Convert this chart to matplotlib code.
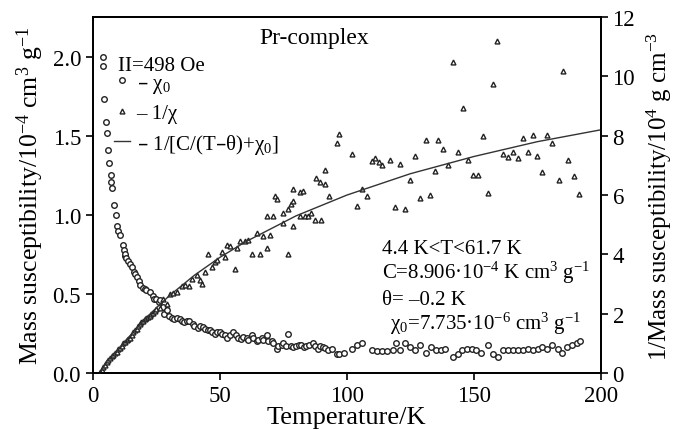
import matplotlib
matplotlib.use("Agg")
import matplotlib.pyplot as plt
from matplotlib.lines import Line2D

plt.rcParams['font.family'] = ['Liberation Serif', 'DejaVu Serif']
plt.rcParams['mathtext.default'] = 'regular'

# chi (left axis, 10^-4 cm3/g)
T_chi = [3.9, 3.9, 4.4, 5.1, 5.5, 6.0, 6.4, 7.0, 7.2, 7.5, 8.3, 9.0, 9.6, 10.0, 10.6,
         11.7, 12.2, 12.5, 12.8, 13.2, 14.0, 14.6, 15.3, 16.0, 16.5, 17.2, 18.0, 18.5,
         19.7, 20.5, 21.0, 22.4, 23.7, 24.0, 25.0, 26.0, 26.3, 27.6, 28.0, 29.0, 30.0,
         31, 32, 33, 34.3, 35, 36, 37, 38, 39.5, 40, 41.5, 42, 43.5, 44, 45.5, 46, 47,
         48, 49, 50, 51, 52, 53, 54, 55, 56.5, 57, 58.5, 59, 60.5, 61, 62.5, 63, 64.5,
         65, 66.5, 67, 68.5, 69, 70.5, 71, 72.4, 73, 74.4, 75, 76, 77, 78, 79, 80, 81,
         82, 83, 84, 85, 86.8, 87.5, 88.8, 89.5, 90.7, 91.5, 92.6, 94, 96, 97, 99, 102,
         104, 106, 110, 112, 114, 116, 118, 119.5, 121, 123, 125, 127, 129, 131, 133,
         135, 137, 138.6, 141.7, 143.7, 145.5, 147.5, 149.5, 151, 153, 155.5, 157.5,
         159.5, 161.4, 163.5, 165.5, 167.5, 169.5, 171.5, 173.5, 175.5, 177, 179, 180.7,
         183, 184.6, 186.6, 188.6, 190.6, 191.7]
chi = [2.0, 1.94, 1.73, 1.59, 1.52, 1.41, 1.33, 1.25, 1.21, 1.17, 1.06, 1.0, 0.93, 0.90, 0.875,
       0.81, 0.775, 0.74, 0.75, 0.73, 0.71, 0.69, 0.67, 0.64, 0.625, 0.61, 0.58, 0.56,
       0.54, 0.53, 0.525, 0.51, 0.49, 0.47, 0.47, 0.45, 0.46, 0.42, 0.375, 0.40, 0.36,
       0.35, 0.34, 0.35, 0.34, 0.33, 0.32, 0.33, 0.33, 0.31, 0.30, 0.285, 0.30, 0.29, 0.28, 0.27, 0.27, 0.26,
       0.25, 0.26, 0.26, 0.25, 0.24, 0.22, 0.24, 0.26, 0.24, 0.22, 0.215, 0.23, 0.22, 0.21, 0.24, 0.22, 0.20,
       0.21, 0.22, 0.21, 0.24, 0.20, 0.20, 0.19, 0.155, 0.17, 0.18, 0.19, 0.17, 0.25, 0.17, 0.165, 0.17, 0.18,
       0.18, 0.165, 0.17, 0.18, 0.19, 0.17, 0.15, 0.17, 0.165, 0.16, 0.145, 0.15, 0.12, 0.12, 0.13, 0.15,
       0.18, 0.19, 0.145, 0.14, 0.14, 0.14, 0.145, 0.19, 0.145, 0.19, 0.165, 0.145, 0.18, 0.13, 0.165,
       0.145, 0.145, 0.15, 0.10, 0.12, 0.145, 0.15, 0.15, 0.145, 0.125, 0.18, 0.12,
       0.10, 0.145, 0.145, 0.145, 0.145, 0.145, 0.15, 0.145, 0.155, 0.165, 0.15, 0.18,
       0.15, 0.13, 0.165, 0.18, 0.19, 0.20]

# 1/chi (right axis, 10^4 g/cm3)
T_inv = [2.8, 3.5, 4.0, 4.7, 5.5, 6.1, 6.7, 7.4, 8.0, 8.7, 9.4, 10, 10.6, 11.3, 12, 12.7,
         13.3, 14, 14.6, 15.3, 15.9, 16.5, 17.2, 17.8, 18.5, 19.1, 19.8, 20.4, 21, 21.7,
         22.4, 23, 23.7, 24.3, 25, 26.4, 27.6, 29, 30.3, 31.5, 33, 35, 36.2, 38, 39, 41,
         42, 43, 44, 45.5, 46.8, 48, 49, 51, 52, 53, 54, 56, 56.6, 58, 60, 61, 62.6, 64.5,
         65.7, 67, 68.5, 69.7, 68.5, 71, 71.6, 72.4, 75, 75, 77, 77, 78, 78.7, 79, 79,
         81.5, 81.5, 82.7, 83.5, 84.7, 86, 87.4, 88, 89.4, 90, 91.3, 91.3, 93, 96, 97,
         102, 104, 106, 108, 110, 111, 112.6, 114, 117, 119, 121, 123, 125, 127, 129, 131,
         132.7, 134.6, 136, 138, 140, 141.7, 143.7, 145.6, 147.6, 149.6, 151.6, 153.5,
         155.5, 157.5, 159, 161.4, 163.4, 165.4, 167.3, 169.3, 171.3, 173.2, 175, 177, 179,
         181, 183.5, 185, 187, 189.4, 191.3]
inv_chi = [0.03, 0.12, 0.2, 0.28, 0.36, 0.44, 0.52, 0.57, 0.62, 0.68, 0.72, 0.8, 0.85, 0.93, 1.0, 1.05,
           1.1, 1.15, 1.2, 1.3, 1.38, 1.45, 1.5, 1.6, 1.67, 1.72, 1.77, 1.82, 1.87, 1.9,
           1.93, 1.98, 2.03, 2.1, 2.16, 2.2, 2.5, 2.33, 2.65, 2.69, 2.75, 2.92, 2.98, 2.92, 3.18, 3.31,
           3.15, 3.0, 3.41, 4.0, 3.57, 3.74, 3.8, 4.07, 3.9, 4.33, 4.3, 3.5, 4.23, 4.46, 4.46, 4.5, 4.0, 4.72,
           4.0, 4.62, 4.23, 4.66, 5.3, 5.28, 5.97, 5.87, 5.05, 5.38, 4.0, 5.54, 5.7, 6.2, 4.95, 5.8,
           5.28, 6.1, 6.13, 5.3, 5.3, 5.38, 5.15, 6.59, 6.43, 5.15, 6.36, 6.85, 5.97, 7.74, 8.07,
           7.38, 5.64, 6.2, 5.97, 7.15, 7.25, 7.1, 7.0, 7.18, 5.6, 7.05, 5.54, 6.52, 7.31, 5.9, 7.87,
           6.0, 6.82, 7.87, 7.57, 7.0, 10.47, 7.44, 8.95, 7.2, 6.69, 6.69, 8.0,
           6.07, 9.74, 11.2, 7.38, 7.28, 7.44, 7.25, 7.93, 7.44, 8.03, 7.31, 6.79, 8.03,
           7.77, 6.52, 10.2, 7.18, 6.66, 6.03]

# fitted curve 1/[C/(T-theta)+chi0]
T_fit = [3, 5, 10, 15, 20, 25, 30, 40, 50, 60, 80, 100, 125, 150, 175, 200]
v_fit = [0.0, 0.36, 0.8, 1.3, 1.78, 2.2, 2.6, 3.3, 3.9, 4.42, 5.3, 6.0, 6.72, 7.3, 7.8, 8.2]

fig = plt.figure(figsize=(6.78, 4.31), dpi=100)
ax = fig.add_axes([0.137, 0.132, 0.749, 0.826])
ax2 = ax.twinx()

ax.plot(T_chi, chi, 'o', ms=4, mfc='white', mec='#222222', mew=1.0, ls='none')
ax2.plot(T_inv, inv_chi, '^', ms=3.5, mfc='white', mec='#222222', mew=1.0, ls='none')
ax2.plot(T_fit, v_fit, '-', color='#333333', lw=1.0)

ax.set_xlim(0, 200)
ax.set_ylim(0, 2.25)
ax2.set_ylim(0, 12)
ax.set_xticks([0, 50, 100, 150, 200])
ax.set_yticks([0.0, 0.5, 1.0, 1.5, 2.0])
ax2.set_yticks([0, 2, 4, 6, 8, 10, 12])
ax.yaxis.set_major_formatter(matplotlib.ticker.FormatStrFormatter('%.1f'))

for a in (ax, ax2):
    a.tick_params(labelsize=16.5, direction='out', length=5, width=1.2)
    for s in a.spines.values():
        s.set_linewidth(1.3)

ax.set_xlabel('Temperature/K', fontsize=19, labelpad=0)
ax.set_ylabel('Mass susceptibility/10$^{-4}$ cm$^3$ g$^{-1}$', fontsize=18.5, labelpad=5)
ax2.set_ylabel('1/Mass susceptibility/10$^4$ g cm$^{-3}$', fontsize=18, labelpad=7)

ax.text(0.435, 0.944, 'Pr-complex', transform=ax.transAxes, fontsize=17,
        ha='center', va='center')
ax.text(0.049, 0.865, 'II=498 Oe', transform=ax.transAxes, fontsize=15,
        ha='left', va='center')

handles = [Line2D([], [], marker='o', ms=4, mfc='white', mec='#222222', ls='none'),
           Line2D([], [], marker='^', ms=3.5, mfc='white', mec='#222222', ls='none'),
           Line2D([], [], color='#333333', lw=1.0)]
labels = ['– χ$_0$', '– 1/χ', '– 1/[C/(T–θ)+χ$_0$]']
leg = ax2.legend(handles, labels, loc='upper left',
                 bbox_to_anchor=(0.041, 0.843), frameon=False, fontsize=15,
                 handlelength=0.8, handletextpad=0.3,
                 labelspacing=0.42, borderpad=0, borderaxespad=0)

notes = ['4.4 K<T<61.7 K',
         'C=8.906·10$^{-4}$ K cm$^3$ g$^{-1}$',
         'θ= –0.2 K']
for txt, y in zip(notes, [0.351, 0.284, 0.208]):
    ax.text(0.569, y, txt, transform=ax.transAxes, fontsize=15, va='center')
ax.text(0.585, 0.14, 'χ$_0$=7.735·10$^{-6}$ cm$^3$ g$^{-1}$', transform=ax.transAxes,
        fontsize=15, va='center')

fig.savefig('out.png', dpi=100)
